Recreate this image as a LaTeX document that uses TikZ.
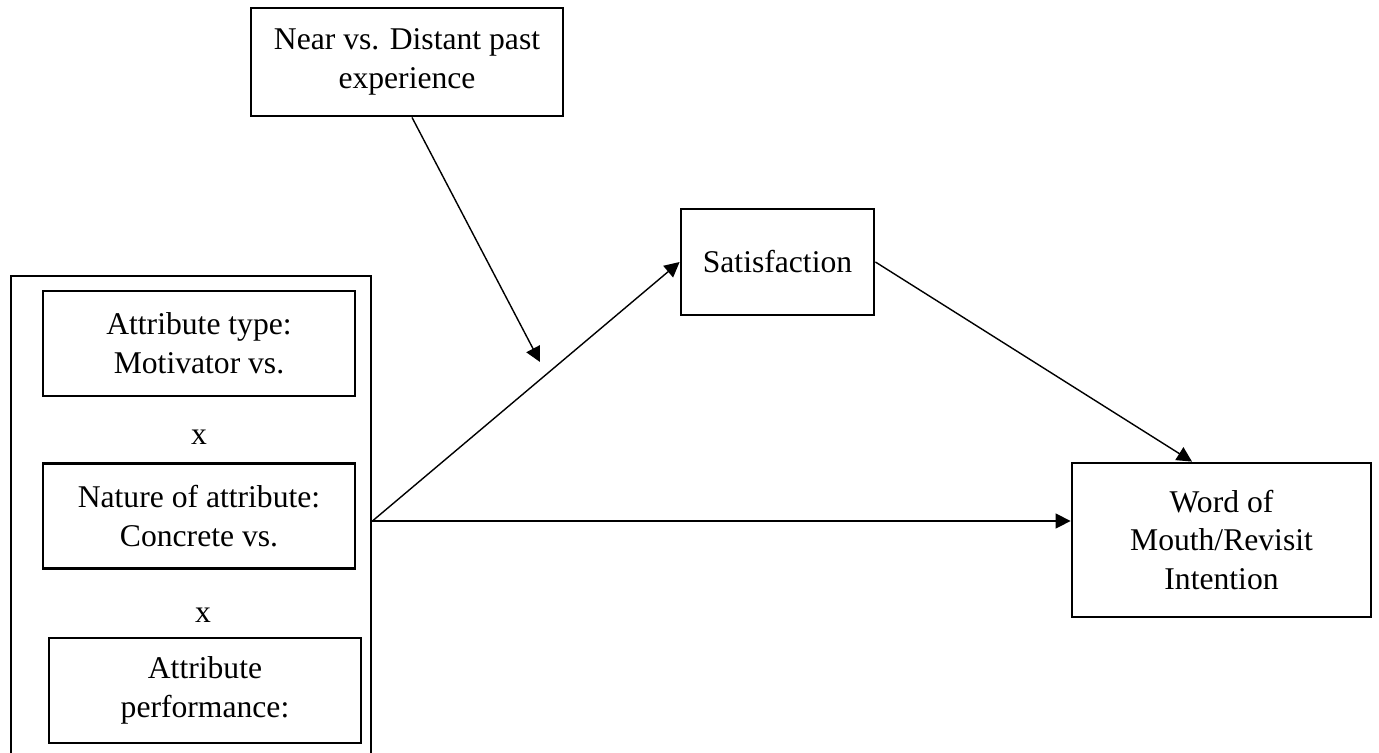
\documentclass[tikz,border=0pt]{standalone}
\usepackage{fontspec}
\setmainfont{Liberation Serif}
\usetikzlibrary{arrows.meta, calc}

\begin{document}
\begin{tikzpicture}[
    box/.style={draw, line width=1.6pt, align=center, inner sep=0pt,
                font=\fontsize{18}{22}\selectfont},
    link/.style={line width=0.8pt, -{Triangle[length=0.3cm,width=0.3cm]}}
  ]
    \useasboundingbox (0,0) rectangle (27.58,-15.04);

    % moderator, mediator, outcome
    \node[box, minimum width=6.24cm, minimum height=2.16cm] (near) at (8.14,-1.24) {Near vs. Distant past\\experience};
    \node[box, minimum width=3.86cm, minimum height=2.12cm] (sat)  at (15.55,-5.24) {Satisfaction};
    \node[box, minimum width=5.98cm, minimum height=3.08cm] (wom)  at (24.43,-10.8) {Word of\\Mouth/Revisit\\Intention};

    % factors
    \node[box, minimum width=7.2cm, minimum height=9.8cm] (outer) at (3.82,-10.42) {};
    \node[box, minimum width=6.24cm, minimum height=2.1cm] (type)   at (3.98,-6.87)  {Attribute type:\\Motivator vs.};
    \node[font=\fontsize{18}{22}\selectfont] (x1) at (3.98,-8.74) {x};
    \node[box, minimum width=6.24cm, minimum height=2.1cm] (nature) at (3.98,-10.32) {Nature of attribute:\\Concrete vs.};
    \node[font=\fontsize{18}{22}\selectfont] (x2) at (4.06,-12.3) {x};
    \node[box, minimum width=6.24cm, minimum height=2.1cm] (perf)   at (4.10,-13.81) {Attribute\\performance:};

    \coordinate (mod) at (10.8,-7.24);

    \draw[link] (outer.east) -- (sat.west);
    \draw[link] (outer.east) -- (outer.east -| wom.west);
    \draw[link] (sat.east) -- ([xshift=-0.59cm]wom.north);
    \draw[link] ([xshift=0.1cm]near.south) -- (mod);
  \end{tikzpicture}
\end{document}
